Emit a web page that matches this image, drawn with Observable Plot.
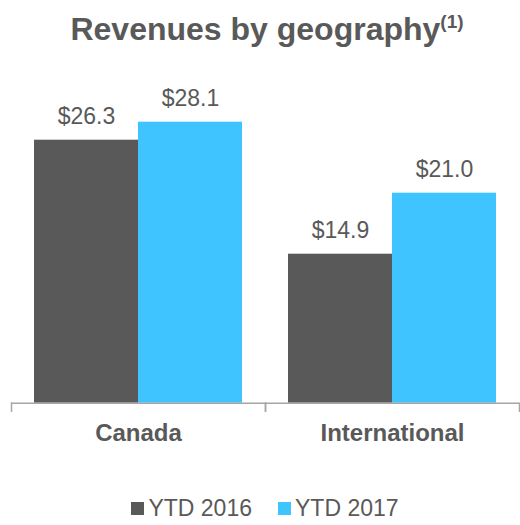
<!DOCTYPE html>
<html>
<head>
<meta charset="utf-8">
<script src="https://cdn.jsdelivr.net/npm/d3@7"></script>
<script src="https://cdn.jsdelivr.net/npm/@observablehq/plot@0.6"></script>
<style>
  body { margin: 0; background: #fff; font-family: "Liberation Sans", Arial, sans-serif; color: #595959; }
  #wrap { width: 520px; }
  #title { height: 60px; box-sizing: border-box; padding-top: 11px; padding-left: 14px; text-align: center; font-weight: bold; font-size: 32px; line-height: 36px; white-space: nowrap; }
  #title sup { font-size: 19px; vertical-align: 0; position: relative; top: -12px; }
  #chart svg { display: block; }
  #legend { display: flex; justify-content: center; align-items: center; gap: 26px; padding-left: 10px; margin-top: 18px; height: 60px; font-size: 23px; line-height: 26px; }
  .item { display: flex; align-items: center; gap: 4px; }
  .sw { width: 13px; height: 13px; display: inline-block; }
</style>
</head>
<body>
<div id="wrap">
  <div id="title">Revenues by geography<sup>(1)</sup></div>
  <div id="chart"></div>
  <div id="legend"></div>
</div>
<script>
const regions = ["Canada", "International"];
const periods = ["YTD 2016", "YTD 2017"];
const ytd2016 = [26.3, 14.9];
const ytd2017 = [28.1, 21.0];
const colors = ["#595959", "#40C4FF"];

const data = [];
regions.forEach((r, i) => {
  data.push({region: r, period: periods[0], value: ytd2016[i]});
  data.push({region: r, period: periods[1], value: ytd2017[i]});
});

const H = 400, mTop = 42.7, mBottom = 57.3;
const plotH = H - mTop - mBottom;
const axisColor = "#a6a6a6";

const chart = Plot.plot({
  width: 520,
  height: H,
  marginTop: mTop,
  marginBottom: mBottom,
  marginLeft: 10,
  marginRight: 1,
  style: {fontFamily: "'Liberation Sans', Arial, sans-serif", color: "#595959", background: "#fff"},
  fx: {domain: regions, padding: 0, axis: null},
  x: {domain: periods, paddingInner: 0, paddingOuter: 0.22, axis: null},
  y: {domain: [0, 30], axis: null},
  color: {domain: periods, range: colors},
  marks: [
    Plot.barY(data, {fx: "region", x: "period", y: "value", fill: "period"}),
    Plot.ruleY([0], {stroke: axisColor, strokeWidth: 1.5}),
    Plot.frame({anchor: "left", stroke: axisColor, strokeWidth: 1.5, insetTop: plotH, insetBottom: -8}),
    Plot.frame({anchor: "right", stroke: axisColor, strokeWidth: 1.5, insetTop: plotH, insetBottom: -8}),
    Plot.text(data, {fx: "region", x: "period", y: "value", text: d => "$" + d.value.toFixed(1), dy: -24, fontSize: 23, fill: "#595959"}),
    Plot.axisFx({anchor: "bottom", tickSize: 0, tickPadding: 21, fontSize: 24, fontWeight: "bold", fill: "#595959", label: null})
  ]
});
document.getElementById("chart").appendChild(chart);

const legend = document.getElementById("legend");
periods.forEach((p, i) => {
  const item = document.createElement("div");
  item.className = "item";
  const sw = document.createElement("span");
  sw.className = "sw";
  sw.style.background = colors[i];
  const t = document.createElement("span");
  t.textContent = p;
  item.appendChild(sw);
  item.appendChild(t);
  legend.appendChild(item);
});
</script>
</body>
</html>
